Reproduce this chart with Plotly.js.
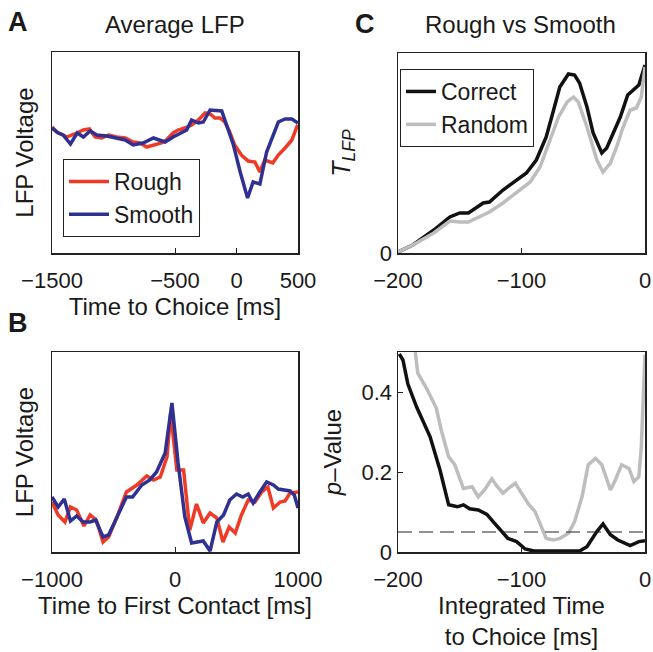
<!DOCTYPE html>
<html>
<head>
<meta charset="utf-8">
<script src="https://cdn.plot.ly/plotly-3.0.1.min.js"></script>
<style>html,body{margin:0;padding:0;background:#fff;}#chart{width:653px;height:652px;}</style>
</head>
<body>
<div id="chart"></div>
<script>
// Panel A: Average LFP vs time to choice (arbitrary voltage units)
const aSmoothT = [-1500,-1450,-1410,-1350,-1295,-1245,-1190,-1135,-1055,-990,-905,-840,-760,-675,-580,-515,-445,-405,-365,-310,-270,-215,-120,-80,-25,30,90,135,190,245,285,340,395,450,500];
const aSmoothV = [125,120,118,109,120,116,122,118,117,115,113,108,110,115,111,116,121,123,133,130,131,143,142,128,108,81,55,71,69,101,113,131,134,134,130];
const aRoughT = [-1500,-1460,-1410,-1380,-1300,-1245,-1195,-1150,-1095,-1040,-975,-905,-840,-785,-730,-675,-610,-570,-515,-475,-420,-365,-310,-255,-215,-175,-135,-95,-55,-15,40,95,150,190,230,295,340,395,450,490,500];
const aRoughV = [126,121,118,116,120,123,124,116,115,118,116,115,111,110,106,108,110,113,120,123,125,128,133,140,139,135,135,131,121,108,98,92,91,81,93,90,98,105,113,126,128];

// Panel B: LFP vs time to first contact
const bSmoothT = [-1000,-950,-900,-850,-800,-745,-690,-645,-585,-540,-475,-395,-345,-270,-205,-150,-80,-25,25,80,135,230,285,340,395,445,500,550,595,635,690,745,800,840,935,970,1000];
const bSmoothV = [55,45,53,31,36,30,30,32,15,17,34,55,55,67,72,80,99,149,89,35,9,11,1,30,37,52,58,55,58,49,60,70,67,63,61,57,44];
const bRoughT = [-1000,-950,-895,-850,-800,-740,-690,-640,-585,-540,-475,-395,-310,-230,-175,-120,-65,-35,15,70,120,175,230,285,340,390,440,490,540,595,650,705,755,800,855,895,935,1000];
const bRoughV = [50,37,30,45,42,26,37,32,10,15,34,60,67,76,72,75,95,139,82,82,22,48,29,39,34,10,25,19,37,52,50,60,65,44,50,51,59,60];

// Panel C top: T_LFP vs integrated time
const cCorrectT = [-200,-188,-171,-158,-150,-143,-131,-126,-115,-107,-96,-88,-80,-74,-69,-62,-57,-53,-47,-42,-35,-31,-26,-20,-14,-9,-5,0];
const cCorrectV = [1,8,23,36,40,40,50,51,63,70,80,93,116,143,166,179,178,170,146,120,100,105,120,136,158,163,168,188];
const cRandomT = [-200,-188,-171,-158,-150,-143,-131,-126,-115,-104,-93,-85,-77,-70,-63,-58,-54,-47,-39,-34,-28,-23,-18,-12,-7,-3,0];
const cRandomV = [1,8,20,32,31,31,38,41,50,60,71,86,113,136,151,156,151,126,93,81,90,106,125,143,145,156,186];

// Panel C bottom: p-value vs integrated time
const pCorrectT = [-199,-196,-192,-185,-174,-166,-159,-152,-147,-142,-135,-128,-123,-116,-111,-104,-97,-90,-74,-53,-47,-39,-34,-28,-22,-12,-5,0];
const pCorrectV = [0.495,0.48,0.42,0.363,0.288,0.205,0.118,0.113,0.118,0.108,0.105,0.094,0.076,0.051,0.034,0.026,0.0075,0.0025,0.0025,0.0025,0.013,0.051,0.07,0.043,0.03,0.016,0.026,0.028];
const pRandomT = [-186,-184,-177,-169,-165,-159,-154,-147,-140,-135,-130,-124,-120,-115,-109,-105,-100,-94,-89,-84,-80,-74,-69,-62,-57,-51,-46,-40,-35,-28,-24,-19,-13,-9,-5,-3,0];
const pRandomV = [0.5,0.447,0.41,0.36,0.305,0.238,0.218,0.159,0.163,0.138,0.155,0.183,0.165,0.147,0.163,0.172,0.147,0.118,0.101,0.063,0.034,0.03,0.034,0.047,0.076,0.138,0.218,0.234,0.218,0.155,0.18,0.218,0.209,0.176,0.188,0.263,0.493];
const pThreshold = 0.05;

const RED = '#ef3a25', BLUE = '#2e3192', BLACK = '#111111', GRAY = '#bdbdbd';
const FONT = 'Liberation Sans, Arial, Helvetica, sans-serif';
const TXT = '#1a1a1a';

const traces = [
  {x: aRoughT, y: aRoughV, xaxis: 'x', yaxis: 'y', name: 'Rough', mode: 'lines', line: {color: RED, width: 3.5}, legend: 'legend'},
  {x: aSmoothT, y: aSmoothV, xaxis: 'x', yaxis: 'y', name: 'Smooth', mode: 'lines', line: {color: BLUE, width: 3.5}, legend: 'legend'},
  {x: bRoughT, y: bRoughV, xaxis: 'x2', yaxis: 'y2', name: 'Rough', mode: 'lines', line: {color: RED, width: 3.5}, showlegend: false},
  {x: bSmoothT, y: bSmoothV, xaxis: 'x2', yaxis: 'y2', name: 'Smooth', mode: 'lines', line: {color: BLUE, width: 3.5}, showlegend: false},
  {x: cCorrectT, y: cCorrectV, xaxis: 'x3', yaxis: 'y3', name: 'Correct', mode: 'lines', line: {color: BLACK, width: 3.5}, legend: 'legend2'},
  {x: cRandomT, y: cRandomV, xaxis: 'x3', yaxis: 'y3', name: 'Random', mode: 'lines', line: {color: GRAY, width: 3.5}, legend: 'legend2'},
  {x: pRandomT, y: pRandomV, xaxis: 'x4', yaxis: 'y4', name: 'Random', mode: 'lines', line: {color: GRAY, width: 3.5}, showlegend: false},
  {x: pCorrectT, y: pCorrectV, xaxis: 'x4', yaxis: 'y4', name: 'Correct', mode: 'lines', line: {color: BLACK, width: 3.5}, showlegend: false}
];

const W = 653, H = 652;
function xd(l, r) { return [l / W, r / W]; }
function yd(t, b) { return [1 - b / H, 1 - t / H]; }

const axBase = {
  showgrid: false, zeroline: false, showline: true, linecolor: '#222', linewidth: 1.5, mirror: true,
  ticks: 'inside', ticklen: 5, tickcolor: '#222', tickwidth: 1,
  tickfont: {family: FONT, size: 22, color: TXT}, fixedrange: true
};
function ax(extra) { return Object.assign({}, axBase, extra); }
const titleFont = {family: FONT, size: 24, color: TXT};

const layout = {
  width: W, height: H,
  margin: {l: 0, r: 0, t: 0, b: 0},
  paper_bgcolor: '#fff', plot_bgcolor: '#fff',
  font: {family: FONT, color: TXT},
  xaxis: ax({domain: xd(52, 298), anchor: 'y', range: [-1500, 500], tickmode: 'array', tickvals: [-1500, -500, 0, 500],
    ticklabelstandoff: 7, title: {text: 'Time to Choice [ms]', font: titleFont, standoff: 4}}),
  yaxis: ax({domain: yd(52, 253), anchor: 'x', range: [0, 201], showticklabels: false, ticks: '',
    title: {text: 'LFP Voltage', font: titleFont, standoff: 10}}),
  xaxis2: ax({domain: xd(52, 298), anchor: 'y2', range: [-1000, 1000], tickmode: 'array', tickvals: [-1000, 0, 1000],
    ticklabelstandoff: 7, title: {text: 'Time to First Contact [ms]', font: titleFont, standoff: 0}}),
  yaxis2: ax({domain: yd(352, 552), anchor: 'x2', range: [0, 200], showticklabels: false, ticks: '',
    title: {text: 'LFP Voltage', font: titleFont, standoff: 10}}),
  xaxis3: ax({domain: xd(398, 645), anchor: 'y3', range: [-200, 0], tickmode: 'array', tickvals: [-200, -100, 0], ticklabelstandoff: 7}),
  yaxis3: ax({domain: yd(53, 253), anchor: 'x3', range: [0, 200], tickmode: 'array', tickvals: [0], ticktext: ['0'],
    title: {text: '<i>T</i><sub><i>LFP</i></sub>', font: {family: FONT, size: 25, color: TXT}, standoff: 22}}),
  xaxis4: ax({domain: xd(398, 645), anchor: 'y4', range: [-200, 0], tickmode: 'array', tickvals: [-200, -100, 0],
    ticklabelstandoff: 7, title: {text: 'Integrated Time<br>to Choice [ms]', font: titleFont, standoff: 3}}),
  yaxis4: ax({domain: yd(352, 552), anchor: 'x4', range: [0, 0.5], tickmode: 'array', tickvals: [0, 0.2, 0.4], ticktext: ['0', '0.2', '0.4'],
    title: {text: '<i>p</i>\u2013Value', font: titleFont, standoff: 13}}),
  legend: {x: 63 / W, y: 1 - 159 / H, xanchor: 'left', yanchor: 'top', bgcolor: '#fff', bordercolor: '#222', borderwidth: 1,
    font: {family: FONT, size: 23, color: TXT}, tracegroupgap: 0, itemwidth: 40, entrywidth: 110},
  legend2: {x: 400 / W, y: 1 - 69 / H, xanchor: 'left', yanchor: 'top', bgcolor: '#fff', bordercolor: '#222', borderwidth: 1,
    font: {family: FONT, size: 23, color: TXT}, tracegroupgap: 0},
  shapes: [
    {type: 'line', xref: 'x4', yref: 'y4', x0: -200, x1: 0, y0: pThreshold, y1: pThreshold,
      line: {color: '#222', width: 1, dash: '14px,7px'}}
  ],
  annotations: [
    {text: 'Average LFP', xref: 'paper', yref: 'paper', x: 175 / W, y: 1 - 24 / H, xanchor: 'center', yanchor: 'middle', showarrow: false, font: {family: FONT, size: 24, color: TXT}},
    {text: 'Rough vs Smooth', xref: 'paper', yref: 'paper', x: 520 / W, y: 1 - 24 / H, xanchor: 'center', yanchor: 'middle', showarrow: false, font: {family: FONT, size: 24, color: TXT}},
    {text: '<b>A</b>', xref: 'paper', yref: 'paper', x: 6 / W, y: 1 - 22 / H, xanchor: 'left', yanchor: 'middle', showarrow: false, font: {family: FONT, size: 27, color: TXT}},
    {text: '<b>B</b>', xref: 'paper', yref: 'paper', x: 6 / W, y: 1 - 323 / H, xanchor: 'left', yanchor: 'middle', showarrow: false, font: {family: FONT, size: 27, color: TXT}},
    {text: '<b>C</b>', xref: 'paper', yref: 'paper', x: 353 / W, y: 1 - 24 / H, xanchor: 'left', yanchor: 'middle', showarrow: false, font: {family: FONT, size: 27, color: TXT}}
  ]
};

Plotly.newPlot('chart', traces, layout, {displayModeBar: false, staticPlot: true});
</script>
</body>
</html>
